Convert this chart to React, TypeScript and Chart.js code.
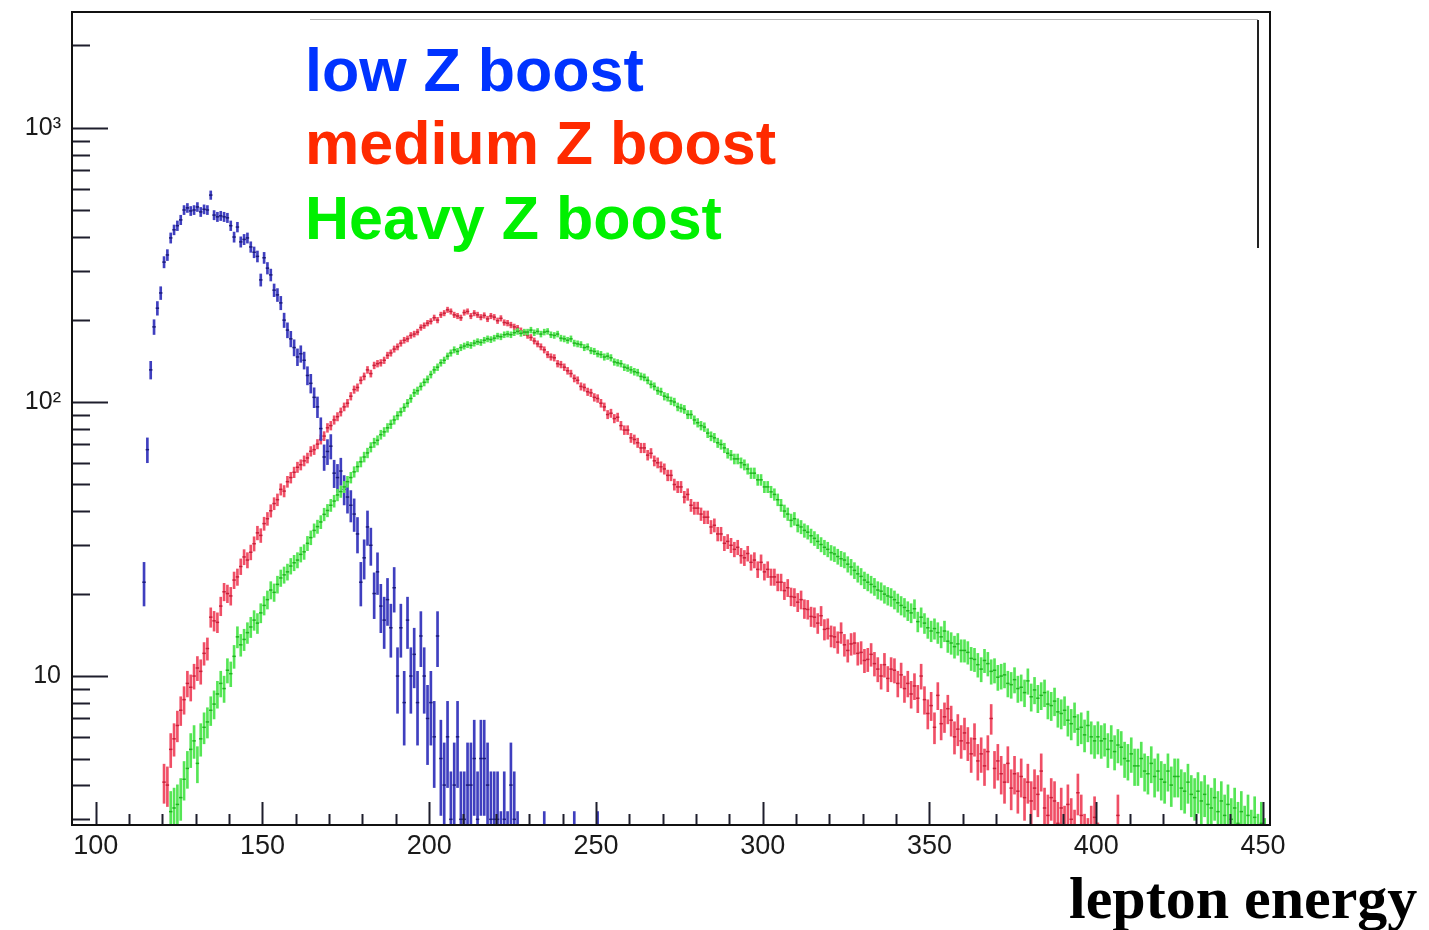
import React, { useEffect, useRef } from "react";
import { Chart, registerables } from "chart.js";

Chart.register(...registerables);

// ---------------- data (1 GeV bins, counts) ----------------
const BIN_WIDTH = 1;

const SERIES_NAMES = ["low Z boost", "medium Z boost", "Heavy Z boost"];

// low Z boost: first bin starts at 114
const LOW_START = 114;
const LOW_COUNTS = [
  22, 67, 131, 188, 220, 250, 324, 344, 397, 425,
  440, 462, 502, 511, 498, 502, 515, 494, 505, 502,
  569, 481, 474, 478, 474, 470, 440, 400, 435, 384,
  392, 397, 368, 352, 340, 279, 336, 308, 291, 256,
  246, 230, 199, 183, 170, 158, 146, 150, 142, 125,
  117, 104, 96, 80, 63, 66, 69, 55, 53, 56,
  48, 45, 42, 39, 33, 22, 27, 35, 30, 20,
  24, 18, 16, 19, 15, 21, 10, 15, 8, 16,
  10, 12, 8, 14, 10, 7, 8, 6, 14, 5,
  4, 6, 3, 4, 6, 3, 3, 4, 4, 5,
  3, 5, 5, 4, 3, 3, 3, 2, 3, 2,
  4, 3, 2, 0, 1, 0, 1, 0, 0, 1,
  2, 1, 0, 0, 0, 1, 0, 0, 0, 2,
  0, 0, 0, 0, 0, 0, 2,
];

// medium Z boost: first bin starts at 120
const MED_START = 120;
const MED_COUNTS = [
  4.1, 4.0, 5.4, 5.9, 6.6, 7.5, 8.2, 9.4, 9.1, 10.0,
  10.7, 10.4, 12.1, 12.6, 16.4, 15.9, 15.7, 18.0, 20.3, 20.0,
  19.6, 22.4, 23.0, 25.1, 27.2, 26.5, 28.3, 30.4, 33.3, 32.6,
  36.0, 37.5, 40.1, 42.6, 44.0, 48.0, 47.3, 51.2, 53.0, 55.4,
  57.8, 59.0, 61.0, 62.5, 66.1, 67.0, 70.2, 73.0, 75.1, 80.5,
  82.0, 86.0, 88.4, 92.0, 96.0, 99, 105, 111, 113, 120,
  124, 131, 127, 136, 138, 139, 142, 148, 151, 156,
  159, 164, 168, 170, 175, 177, 180, 187, 190, 194,
  197, 203, 199, 208, 211, 217, 214, 208, 206, 203,
  212, 214, 206, 211, 208, 204, 207, 201, 206, 204,
  198, 202, 195, 194, 191, 188, 186, 182, 179, 175,
  172, 167, 163, 159, 155, 149, 146, 145, 138, 137,
  134, 130, 127, 122, 120, 114, 113, 109, 108, 104,
  103, 99, 96, 90, 91, 87, 88, 82, 79, 79,
  74, 73, 71, 68, 68, 64, 65, 61, 60, 58,
  57, 54, 54, 50, 49, 49, 45, 46, 42, 41,
  41, 39, 38, 38, 35, 35.5, 33, 33, 30.5, 31,
  30, 29, 29.5, 27.5, 27, 28, 26, 26.5, 24.5, 26,
  24, 24.5, 23, 23, 22, 22, 20.5, 21, 19.5, 19.4,
  18.6, 19, 17.6, 17.5, 16.5, 16.4, 15.6, 16.6, 14.8, 14.9,
  14.0, 13.9, 13.3, 14.4, 13.0, 12.4, 13.1, 13.2, 12.1, 12.2,
  11.4, 11.5, 12.0, 11.1, 10.6, 10.0, 11.0, 9.8, 10.6, 10.5,
  9.4, 10.1, 9.0, 9.4, 8.6, 9.2, 8.3, 10.0, 8.2, 7.3,
  7.8, 6.5, 8.5, 6.7, 7.1, 7.6, 6.9, 6.0, 6.4, 5.8,
  6.2, 5.7, 5.2, 5.9, 4.9, 5.2, 4.7, 5.3, 7.0, 4.6,
  4.9, 4.4, 4.1, 4.8, 3.9, 4.4, 3.8, 4.3, 3.6, 4.1,
  3.5, 3.9, 3.7, 4.5, 3.3, 3.1, 3.6, 3.5, 2.9, 3.3,
  2.8, 3.4, 3.0, 2.7, 3.75, 3.1, 2.6, 2.5, 2.8, 3.05,
  2.4, 0, 2.3, 0, 2.2, 0, 3.1, 0, 2.0,
];

// Heavy Z boost: first bin starts at 122
const HEAVY_START = 122;
const HEAVY_COUNTS = [
  3.2, 3.3, 3.4, 3.6, 4.2, 4.6, 5.4, 5.8, 4.8, 5.9,
  6.5, 6.8, 7.5, 7.9, 8.6, 9.4, 9.0, 10.5, 10.2, 11.8,
  13.9, 13.0, 13.6, 14.4, 15.1, 16.0, 15.6, 17.0, 18.1, 19.0,
  20.6, 20.2, 21.6, 22.8, 23.4, 24.0, 25.2, 25.9, 26.5, 27.8,
  28.4, 30.5, 32.0, 34.0, 35.1, 36.5, 38.9, 40.2, 42.0, 43.5,
  45.8, 47.1, 49.0, 51.2, 53.0, 55.6, 58.1, 60.5, 63.0, 65.2,
  68.4, 71.0, 72.5, 76.0, 77.8, 80.5, 83.0, 86.0, 89.2, 92.0,
  95.5, 99.0, 103, 108, 110, 114, 118, 121, 126, 131,
  134, 139, 142, 147, 151, 155, 153, 158, 160, 162,
  161, 164, 166, 165, 168, 170, 169, 171, 174, 173,
  176, 177, 176, 179, 181, 178, 180, 180, 183, 179,
  181, 177, 180, 181, 176, 175, 177, 171, 170, 168,
  170, 164, 163, 162, 158, 159, 154, 153, 150, 149,
  146, 147, 145, 140, 139, 138, 134, 133, 131, 129,
  128, 124, 123, 120, 116, 114, 110, 109, 105, 104,
  101, 100, 96, 95, 94, 90, 90, 86, 84, 82,
  81, 77, 75, 74, 71, 70, 68, 65, 64, 62,
  62, 60, 59, 57, 55, 55, 52, 52, 49, 49,
  47, 46, 44, 42, 40, 39, 37, 37.5, 35.5, 35,
  34, 33.5, 32.5, 31.8, 31, 30.2, 29.5, 29, 28.2, 27.9,
  27.3, 26.8, 26.5, 25.6, 25, 24.3, 23.6, 23.1, 22.4, 22,
  21.6, 21.2, 20.6, 20.4, 19.9, 19.6, 19.4, 19, 18.5, 18.1,
  17.8, 17.3, 17.0, 17.6, 15.8, 16.4, 15.6, 15.0, 14.6, 14.9,
  14.4, 13.9, 14.6, 13.4, 13.2, 12.8, 13.1, 12.4, 12.4, 12.2,
  11.6, 11.5, 11.0, 10.6, 11.4, 11.1, 10.4, 10.5, 9.9, 10.0,
  10.1, 9.4, 9.3, 9.7, 9.0, 9.1, 8.7, 9.6, 8.4, 8.9,
  8.3, 8.5, 8.7, 7.9, 7.8, 8.1, 7.4, 7.3, 7.5, 6.9,
  6.7, 7.1, 6.4, 6.5, 6.1, 6.6, 6.0, 5.8, 6.0, 5.8,
  5.9, 5.4, 5.8, 5.3, 5.6, 5.5, 5.0, 4.9, 5.2, 4.7,
  4.7, 5.0, 4.5, 4.4, 4.8, 4.3, 4.5, 4.2, 4.1, 4.5,
  4.0, 4.3, 4.3, 3.9, 3.8, 4.1, 3.7, 3.6, 3.8, 3.5,
  3.7, 3.4, 3.3, 3.6, 3.2, 3.5, 3.1, 3.4, 3.0, 3.3,
  2.9, 3.2, 2.8, 3.1, 2.7, 3.05, 2.6, 2.9, 2.5,
];

// relative size of the error bars (error = k * sqrt(content))
const ERROR_SCALE = [0.85, 0.33, 0.33];

// axes
const X_MIN = 92.9;
const X_MAX = 452.1;
const Y_MIN = 2.86;
const Y_MAX = 2650;
const X_MAJOR_TICKS = [100, 150, 200, 250, 300, 350, 400, 450];
const X_MINOR_TICKS = [
  110, 120, 130, 140, 160, 170, 180, 190, 210, 220, 230, 240, 260, 270, 280, 290,
  310, 320, 330, 340, 360, 370, 380, 390, 410, 420, 430, 440,
];
const Y_MAJOR_TICKS = [10, 100, 1000];
const Y_MAJOR_LABELS = ["10", "10\u00B2", "10\u00B3"];
const Y_MINOR_TICKS = [
  3, 4, 5, 6, 7, 8, 9, 20, 30, 40, 50, 60, 70, 80, 90,
  200, 300, 400, 500, 600, 700, 800, 900, 2000,
];

// ---------------- styling ----------------
const BAR_COLORS = ["#3f3fbf", "#f04f66", "#55e655"];
const MARK_COLORS = ["#1b1b7a", "#c8203a", "#1fb51f"];
const TEXT_COLORS = ["#0033ff", "#ff2a00", "#00f000"];
const AXIS_COLOR = "#1e1e2c";
const SANS = "'Liberation Sans', Arial, Helvetica, sans-serif";
const SERIF = "'Liberation Serif', 'Times New Roman', serif";

type Pt = { x: number; y: number };
type Bar = { x: number; y: [number, number] };

function buildSeries(start: number, counts: number[], k: number) {
  const centers: Pt[] = [];
  const bars: Bar[] = [];
  counts.forEach((v, i) => {
    if (v <= 0) return;
    const x = start + (i + 0.5) * BIN_WIDTH;
    const e = k * Math.sqrt(v);
    centers.push({ x, y: v });
    bars.push({ x, y: [Math.max(v - e, 0.5), v + e] });
  });
  return { centers, bars };
}

const rootFrame = {
  id: "rootFrame",
  afterDatasetsDraw(chart: any) {
    const { ctx, chartArea: a, scales } = chart;
    const xs = scales.x;
    const ys = scales.y;
    ctx.save();
    ctx.strokeStyle = AXIS_COLOR;
    ctx.lineWidth = 2;
    ctx.beginPath();
    Y_MAJOR_TICKS.forEach((v) => {
      const p = Math.round(ys.getPixelForValue(v)) + 0.5;
      ctx.moveTo(a.left, p);
      ctx.lineTo(a.left + 36, p);
    });
    Y_MINOR_TICKS.forEach((v) => {
      const p = Math.round(ys.getPixelForValue(v)) + 0.5;
      ctx.moveTo(a.left, p);
      ctx.lineTo(a.left + 18, p);
    });
    X_MAJOR_TICKS.forEach((v) => {
      const p = Math.round(xs.getPixelForValue(v)) + 0.5;
      ctx.moveTo(p, a.bottom);
      ctx.lineTo(p, a.bottom - 23);
    });
    X_MINOR_TICKS.forEach((v) => {
      const p = Math.round(xs.getPixelForValue(v)) + 0.5;
      ctx.moveTo(p, a.bottom);
      ctx.lineTo(p, a.bottom - 11);
    });
    ctx.stroke();
    // frame
    ctx.strokeStyle = "#111";
    ctx.strokeRect(a.left, a.top, a.right - a.left, a.bottom - a.top);
    // remnants of the (transparent) legend box
    ctx.strokeStyle = "#b8b8b8";
    ctx.lineWidth = 1;
    ctx.beginPath();
    ctx.moveTo(310, a.top + 7.5);
    ctx.lineTo(a.right - 12, a.top + 7.5);
    ctx.stroke();
    ctx.strokeStyle = "#222";
    ctx.lineWidth = 2;
    ctx.beginPath();
    ctx.moveTo(a.right - 12, a.top + 8);
    ctx.lineTo(a.right - 12, 248);
    ctx.stroke();
    ctx.restore();
  },
};

export default function App() {
  const canvasRef = useRef<HTMLCanvasElement | null>(null);

  useEffect(() => {
    const canvas = canvasRef.current;
    if (!canvas) return;
    const all = [
      buildSeries(LOW_START, LOW_COUNTS, ERROR_SCALE[0]),
      buildSeries(MED_START, MED_COUNTS, ERROR_SCALE[1]),
      buildSeries(HEAVY_START, HEAVY_COUNTS, ERROR_SCALE[2]),
    ];
    // drawing order: red at the bottom, then blue, green on top
    const orderBase = [2, 4, 0];
    const datasets: any[] = [];
    all.forEach((s, i) => {
      datasets.push({
        type: "bar",
        label: SERIES_NAMES[i] + " errors",
        data: s.bars,
        backgroundColor: BAR_COLORS[i],
        borderWidth: 0,
        barThickness: 2,
        grouped: false,
        clip: 0,
        order: orderBase[i] + 1,
      });
      datasets.push({
        type: "scatter",
        label: SERIES_NAMES[i],
        data: s.centers,
        pointStyle: "line",
        pointRadius: 1.7,
        borderColor: MARK_COLORS[i],
        backgroundColor: MARK_COLORS[i],
        borderWidth: 1.5,
        showLine: false,
        clip: 0,
        order: orderBase[i],
      });
    });

    const chart = new Chart(canvas, {
      type: "bar",
      data: { datasets },
      options: {
        animation: false,
        responsive: false,
        events: [],
        layout: { padding: { top: 12, right: 159, left: 0, bottom: 0 } },
        plugins: {
          legend: { display: false },
          tooltip: { enabled: false },
          title: { display: false },
        },
        scales: {
          x: {
            type: "linear",
            position: "bottom",
            min: X_MIN,
            max: X_MAX,
            offset: false,
            grid: { display: false, drawTicks: false },
            border: { display: false },
            afterBuildTicks: (s: any) => {
              s.ticks = X_MAJOR_TICKS.map((v) => ({ value: v }));
            },
            afterFit: (s: any) => {
              s.height = 105;
              s.paddingLeft = 0;
              s.paddingRight = 0;
            },
            ticks: {
              autoSkip: false,
              maxRotation: 0,
              padding: 5,
              color: "#1a1a1a",
              font: { family: SANS, size: 27 },
              callback: (v: any) => String(v),
            },
          },
          y: {
            type: "logarithmic",
            position: "left",
            min: Y_MIN,
            max: Y_MAX,
            grid: { display: false, drawTicks: false },
            border: { display: false },
            afterBuildTicks: (s: any) => {
              s.ticks = Y_MAJOR_TICKS.map((v) => ({ value: v }));
            },
            afterFit: (s: any) => {
              s.width = 72;
              s.paddingTop = 0;
              s.paddingBottom = 0;
            },
            ticks: {
              autoSkip: false,
              padding: 11,
              color: "#1a1a1a",
              font: { family: SANS, size: 25 },
              callback: (v: any) => {
                const idx = Y_MAJOR_TICKS.indexOf(Number(v));
                return idx >= 0 ? Y_MAJOR_LABELS[idx] : "";
              },
            },
          },
        },
      },
      plugins: [rootFrame],
    } as any);

    return () => chart.destroy();
  }, []);

  const legendTops = [40, 113, 188];

  return (
    <div
      style={{
        position: "fixed",
        left: 0,
        top: 0,
        width: 1429,
        height: 930,
        overflow: "hidden",
        background: "#ffffff",
      }}
    >
      <canvas
        ref={canvasRef}
        width={1429}
        height={930}
        style={{ position: "absolute", left: 0, top: 0, width: 1429, height: 930 }}
      />
      {SERIES_NAMES.map((name, i) => (
        <div
          key={name}
          style={{
            position: "absolute",
            left: 305,
            top: legendTops[i],
            fontFamily: SANS,
            fontWeight: "bold",
            fontSize: 61,
            lineHeight: "61px",
            color: TEXT_COLORS[i],
            whiteSpace: "nowrap",
          }}
        >
          {name}
        </div>
      ))}
      <div
        style={{
          position: "absolute",
          left: 1069,
          top: 868,
          fontFamily: SERIF,
          fontWeight: "bold",
          fontSize: 60,
          lineHeight: "60px",
          color: "#000",
          whiteSpace: "nowrap",
        }}
      >
        lepton energy
      </div>
    </div>
  );
}
